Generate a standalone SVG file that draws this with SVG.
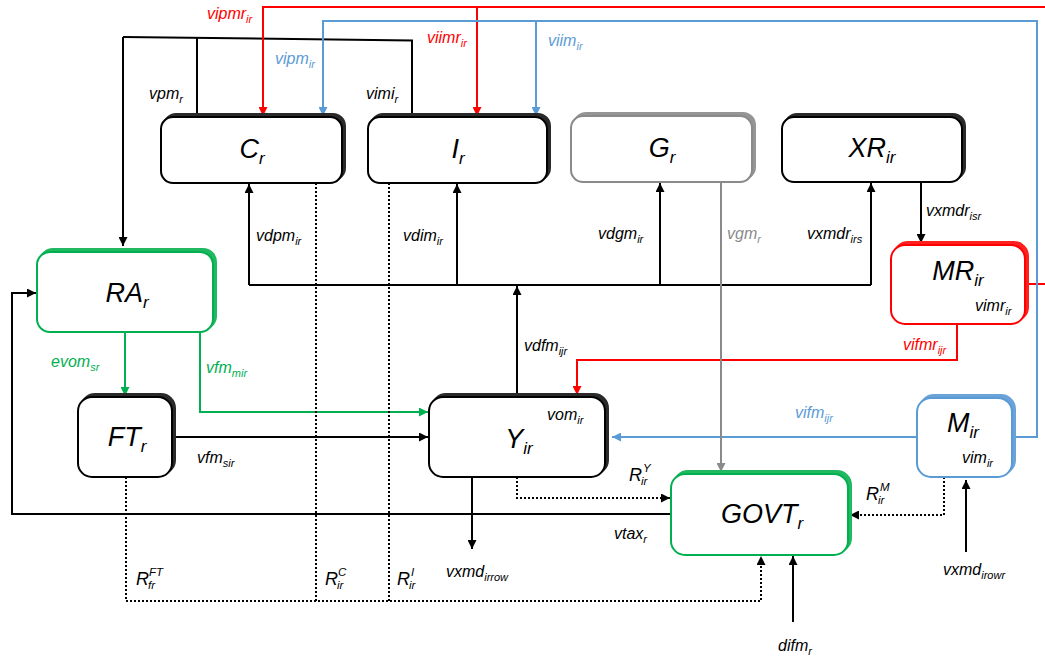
<svg xmlns="http://www.w3.org/2000/svg" width="1045" height="659" viewBox="0 0 1045 659">
  <style>
    .bg { fill: #ffffff; }
    .box { fill: #ffffff; stroke-width: 2; }
    .shadow { stroke-width: 2; }
    .k { stroke: #000000; }
    .r { stroke: #ff0000; }
    .b { stroke: #5b9bd5; }
    .g { stroke: #00b050; }
    .gy { stroke: #8a8a8a; }
    .sk { fill: #2a2a2a; stroke: #2a2a2a; }
    .sr { fill: #ff2020; stroke: #ff2020; }
    .sbl { fill: #6aa3d8; stroke: #6aa3d8; }
    .sg { fill: #20b860; stroke: #20b860; }
    .sgy { fill: #959595; stroke: #959595; }
    .ln { fill: none; stroke-width: 2; }
    .dot { fill: none; stroke: #000000; stroke-width: 2; stroke-dasharray: 2 2; }
    text { font-family: "Liberation Sans", Arial, sans-serif; font-style: italic; }
    .nl { font-size: 27px; text-anchor: middle; fill: #000000; }
    .ns { font-size: 17px; }
    .lb { font-size: 16px; fill: #000000; }
    .sb { font-size: 11px; }
    .rl { font-size: 18px; fill: #000000; }
    .rs { font-size: 11.5px; fill: #000000; }
    .tr { fill: #ff0000; }
    .tb { fill: #5b9bd5; }
    .tg { fill: #00b050; }
    .tgy { fill: #8a8a8a; }
  </style>
  <defs>
    <marker id="ak" viewBox="0 0 10 10" refX="10" refY="5" markerWidth="9" markerHeight="9" markerUnits="userSpaceOnUse" orient="auto"><path d="M0,0 L10,5 L0,10 z" fill="#000000"/></marker>
    <marker id="ar" viewBox="0 0 10 10" refX="10" refY="5" markerWidth="9" markerHeight="9" markerUnits="userSpaceOnUse" orient="auto"><path d="M0,0 L10,5 L0,10 z" fill="#ff0000"/></marker>
    <marker id="abl" viewBox="0 0 10 10" refX="10" refY="5" markerWidth="9" markerHeight="9" markerUnits="userSpaceOnUse" orient="auto"><path d="M0,0 L10,5 L0,10 z" fill="#5b9bd5"/></marker>
    <marker id="ag" viewBox="0 0 10 10" refX="10" refY="5" markerWidth="9" markerHeight="9" markerUnits="userSpaceOnUse" orient="auto"><path d="M0,0 L10,5 L0,10 z" fill="#00b050"/></marker>
    <marker id="agy" viewBox="0 0 10 10" refX="10" refY="5" markerWidth="9" markerHeight="9" markerUnits="userSpaceOnUse" orient="auto"><path d="M0,0 L10,5 L0,10 z" fill="#8a8a8a"/></marker>
  </defs>

  <rect class="bg" x="0" y="0" width="1045" height="659"/>

  <!-- connectors -->
  <g id="connectors">
    <!-- top black frame feeding C, I and RA -->
    <polyline class="ln k" points="197,117 197,37.5"/>
    <polyline class="ln k" points="123,37 412,40.5 412,117"/>
    <polyline class="ln k" points="123,37 123,246" marker-end="url(#ak)"/>

    <!-- red import lines from MR -->
    <polyline class="ln r" points="1045,7 263,7 263,116" marker-end="url(#ar)"/>
    <polyline class="ln r" points="477,7 477,116" marker-end="url(#ar)"/>
    <polyline class="ln r" points="1025,284 1045,284"/>
    <polyline class="ln r" points="957,323 957,360 577,360 577,395" marker-end="url(#ar)"/>

    <!-- blue import lines from M -->
    <polyline class="ln b" points="1012,437 1037,437 1037,21 323,21 323,116" marker-end="url(#abl)"/>
    <polyline class="ln b" points="536,21 536,116" marker-end="url(#abl)"/>
    <polyline class="ln b" points="919,437 612,437" marker-end="url(#abl)"/>

    <!-- domestic demand bus -->
    <polyline class="ln k" points="249,285 871,285"/>
    <polyline class="ln k" points="249,285 249,184" marker-end="url(#ak)"/>
    <polyline class="ln k" points="457,285 457,184" marker-end="url(#ak)"/>
    <polyline class="ln k" points="660,285 660,183" marker-end="url(#ak)"/>
    <polyline class="ln k" points="871,285 871,183" marker-end="url(#ak)"/>
    <polyline class="ln k" points="517,395 517,286" marker-end="url(#ak)"/>

    <!-- XR to MR -->
    <polyline class="ln k" points="921,182 921,243" marker-end="url(#ak)"/>

    <!-- G to GOVT -->
    <polyline class="ln gy" points="721,182 721,472" marker-end="url(#agy)"/>

    <!-- RA outputs -->
    <polyline class="ln g" points="125,332 125,396" marker-end="url(#ag)"/>
    <polyline class="ln g" points="200,332 200,412 428,412" marker-end="url(#ag)"/>

    <!-- FT to Y -->
    <polyline class="ln k" points="172,437 428,437" marker-end="url(#ak)"/>

    <!-- tax revenue back to RA -->
    <polyline class="ln k" points="671,514 12,514 12,293 36,293" marker-end="url(#ak)"/>

    <!-- Y exports -->
    <polyline class="ln k" points="472,477 472,549" marker-end="url(#ak)"/>

    <!-- tax flows to GOVT (dotted) -->
    <polyline class="dot" points="517,477 517,498 670,498" marker-end="url(#ak)"/>
    <polyline class="dot" points="126,477 126,601 761,601 761,556" marker-end="url(#ak)"/>
    <polyline class="dot" points="316,183 316,601"/>
    <polyline class="dot" points="389,183 389,601"/>
    <polyline class="dot" points="944,477 944,515 850,515" marker-end="url(#ak)"/>

    <!-- external inputs -->
    <polyline class="ln k" points="966,552 966,480" marker-end="url(#ak)"/>
    <polyline class="ln k" points="793,622 793,556" marker-end="url(#ak)"/>
  </g>

  <!-- connector labels -->
  <g id="labels">
    <text x="207" y="19" class="lb tr">vipmr<tspan class="sb" dy="4">ir</tspan></text>
    <text x="427" y="43" class="lb tr">viimr<tspan class="sb" dy="4">ir</tspan></text>
    <text x="275" y="64" class="lb tb">vipm<tspan class="sb" dy="4">ir</tspan></text>
    <text x="548" y="46" class="lb tb">viim<tspan class="sb" dy="4">ir</tspan></text>
    <text x="149" y="99" class="lb">vpm<tspan class="sb" dy="4">r</tspan></text>
    <text x="366" y="99" class="lb">vimi<tspan class="sb" dy="4">r</tspan></text>
    <text x="256" y="241" class="lb">vdpm<tspan class="sb" dy="4">ir</tspan></text>
    <text x="403" y="241" class="lb">vdim<tspan class="sb" dy="4">ir</tspan></text>
    <text x="598" y="239" class="lb">vdgm<tspan class="sb" dy="4">ir</tspan></text>
    <text x="727" y="239" class="lb tgy">vgm<tspan class="sb" dy="4">r</tspan></text>
    <text x="807" y="239" class="lb">vxmdr<tspan class="sb" dy="4">irs</tspan></text>
    <text x="926" y="216" class="lb">vxmdr<tspan class="sb" dy="4">isr</tspan></text>
    <text x="524" y="351" class="lb">vdfm<tspan class="sb" dy="4">ijr</tspan></text>
    <text x="903" y="350" class="lb tr">vifmr<tspan class="sb" dy="4">ijr</tspan></text>
    <text x="795" y="418" class="lb tb">vifm<tspan class="sb" dy="4">ijr</tspan></text>
    <text x="51" y="367" class="lb tg">evom<tspan class="sb" dy="4">sr</tspan></text>
    <text x="206" y="373" class="lb tg">vfm<tspan class="sb" dy="4">mir</tspan></text>
    <text x="197" y="463" class="lb">vfm<tspan class="sb" dy="4">sir</tspan></text>
    <text x="614" y="539" class="lb">vtax<tspan class="sb" dy="4">r</tspan></text>
    <text x="446" y="577" class="lb">vxmd<tspan class="sb" dy="4">irrow</tspan></text>
    <text x="943" y="575" class="lb">vxmd<tspan class="sb" dy="4">irowr</tspan></text>
    <text x="778" y="651" class="lb">difm<tspan class="sb" dy="4">r</tspan></text>

    <text x="136" y="585" class="rl">R</text><text x="148" y="589" class="rs">fr</text><text x="149" y="576" class="rs">FT</text>
    <text x="325" y="585" class="rl">R</text><text x="337" y="589" class="rs">ir</text><text x="338" y="576" class="rs">C</text>
    <text x="397" y="585" class="rl">R</text><text x="409" y="589" class="rs">ir</text><text x="411" y="576" class="rs">I</text>
    <text x="629" y="481" class="rl">R</text><text x="641" y="485" class="rs">ir</text><text x="643" y="472" class="rs">Y</text>
    <text x="866" y="500" class="rl">R</text><text x="878" y="504" class="rs">ir</text><text x="880" y="491" class="rs">M</text>
  </g>

  <!-- nodes -->
  <g id="node-C">
    <rect class="shadow sk" x="164" y="114" width="181" height="66" rx="12"/>
    <rect class="box k" x="161" y="117" width="181" height="66" rx="12"/>
    <text x="252" y="158" class="nl">C<tspan class="ns" dy="6">r</tspan></text>
  </g>
  <g id="node-I">
    <rect class="shadow sk" x="371" y="114" width="179" height="66" rx="12"/>
    <rect class="box k" x="368" y="117" width="179" height="66" rx="12"/>
    <text x="458" y="158" class="nl">I<tspan class="ns" dy="6">r</tspan></text>
  </g>
  <g id="node-G">
    <rect class="shadow sgy" x="574" y="113" width="181" height="66" rx="12"/>
    <rect class="box gy" x="571" y="116" width="181" height="66" rx="12"/>
    <text x="662" y="157" class="nl">G<tspan class="ns" dy="6">r</tspan></text>
  </g>
  <g id="node-XR">
    <rect class="shadow sk" x="785" y="114" width="180" height="65" rx="12"/>
    <rect class="box k" x="782" y="117" width="180" height="65" rx="12"/>
    <text x="872" y="157" class="nl">XR<tspan class="ns" dy="6">ir</tspan></text>
  </g>
  <g id="node-RA">
    <rect class="shadow sg" x="40" y="249" width="176" height="80" rx="13"/>
    <rect class="box g" x="37" y="252" width="176" height="80" rx="13"/>
    <text x="127" y="302" class="nl">RA<tspan class="ns" dy="6">r</tspan></text>
  </g>
  <g id="node-FT">
    <rect class="shadow sk" x="81" y="394" width="94" height="80" rx="14"/>
    <rect class="box k" x="78" y="397" width="94" height="80" rx="14"/>
    <text x="127" y="446" class="nl">FT<tspan class="ns" dy="6">r</tspan></text>
  </g>
  <g id="node-Y">
    <rect class="shadow sk" x="432" y="394" width="176" height="80" rx="14"/>
    <rect class="box k" x="429" y="397" width="176" height="80" rx="14"/>
    <text x="519" y="448" class="nl">Y<tspan class="ns" dy="6">ir</tspan></text>
    <text x="547" y="420" class="lb">vom<tspan class="sb" dy="4">ir</tspan></text>
  </g>
  <g id="node-GOVT">
    <rect class="shadow sg" x="674" y="471" width="177" height="81" rx="14"/>
    <rect class="box g" x="671" y="474" width="177" height="81" rx="14"/>
    <text x="762" y="523" class="nl">GOVT<tspan class="ns" dy="6">r</tspan></text>
  </g>
  <g id="node-MR">
    <rect class="shadow sr" x="894" y="242" width="134" height="79" rx="14"/>
    <rect class="box r" x="891" y="245" width="134" height="79" rx="14"/>
    <text x="958" y="280" class="nl">MR<tspan class="ns" dy="6">ir</tspan></text>
    <text x="975" y="311" class="lb">vimr<tspan class="sb" dy="4">ir</tspan></text>
  </g>
  <g id="node-M">
    <rect class="shadow sbl" x="920" y="395" width="95" height="79" rx="14"/>
    <rect class="box b" x="917" y="398" width="95" height="79" rx="14"/>
    <text x="963" y="432" class="nl">M<tspan class="ns" dy="6">ir</tspan></text>
    <text x="962" y="463" class="lb">vim<tspan class="sb" dy="4">ir</tspan></text>
  </g>
</svg>
